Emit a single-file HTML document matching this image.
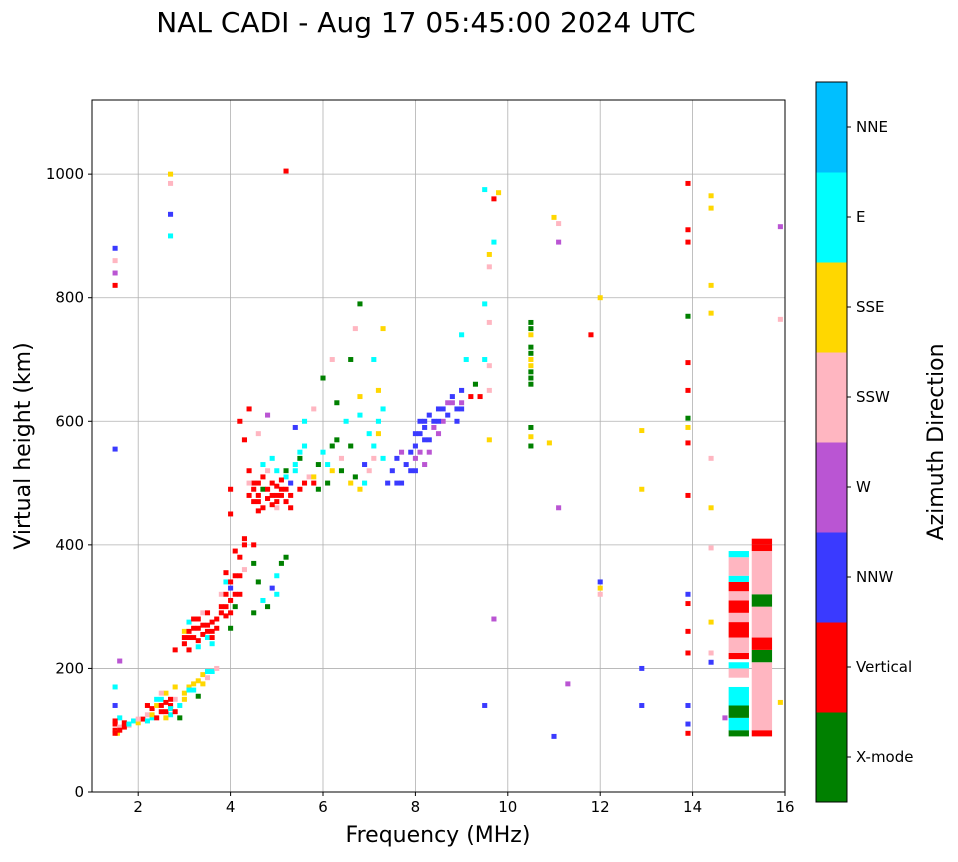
<!DOCTYPE html>
<html><head><meta charset="utf-8"><style>
body{margin:0;background:#fff;font-family:"Liberation Sans","DejaVu Sans",sans-serif;}
svg text{font-family:"DejaVu Sans","Liberation Sans",sans-serif;}
</style></head><body>
<svg id="chart" width="958" height="857" xmlns="http://www.w3.org/2000/svg">
<text x="426" y="32" font-size="28" text-anchor="middle" fill="#000">NAL CADI - Aug 17 05:45:00 2024 UTC</text>
<g id="grid"></g>
<g id="marks"></g>
<rect x="92" y="100" width="693" height="692" fill="none" stroke="#000" stroke-width="1"/>
<g id="axes"></g>
<text x="438" y="842" font-size="22" text-anchor="middle">Frequency (MHz)</text>
<text transform="translate(30,446) rotate(-90)" font-size="22" text-anchor="middle">Virtual height (km)</text>
<g id="cbar"></g>
<text transform="translate(943,442) rotate(-90)" font-size="22" text-anchor="middle">Azimuth Direction</text>
</svg>
<script>
const dirLabels=["X-mode","Vertical","NNW","W","SSW","SSE","E","NNE"];
const dirColors=["#008000","#ff0000","#3a3aff","#ba55d3","#ffb6c1","#ffd700","#00ffff","#00bfff"];
const xTicks=[2,4,6,8,10,12,14,16];
const yTicks=[0,200,400,600,800,1000];
const freqs=[1.5,1.5,1.55,1.6,1.6,1.7,1.8,1.9,2.0,2.1,2.2,2.3,2.3,2.4,2.5,2.5,2.6,2.6,2.7,2.7,2.8,2.9,1.5,1.5,1.6,
3.0,3.1,3.2,3.3,3.4,3.5,3.6,3.7,3.3,
2.8,3.0,3.0,3.1,3.1,3.2,3.3,3.3,3.4,3.4,3.5,3.5,3.6,3.7,3.8,3.8,3.9,3.9,4.0,4.0,4.1,4.1,4.2,4.2,4.3,4.3,4.0,4.0,4.2,4.3,4.0,
4.4,4.5,4.5,4.6,4.7,4.7,4.8,4.8,4.9,4.9,5.0,5.0,5.1,5.2,5.2,5.3,4.5,4.5,4.6,4.7,4.8,4.9,5.0,5.1,5.2,4.5,5.0,4.6,4.8,4.4,
5.4,5.5,5.5,5.6,5.7,5.8,5.9,6.0,6.1,6.2,6.3,6.4,6.5,6.0,6.3,5.4,5.6,5.8,6.2,
6.6,6.7,6.8,6.9,7.0,7.1,7.2,7.3,7.4,7.5,7.6,7.7,7.3,7.2,7.1,6.8,6.6,6.7,6.8,7.3,
7.9,8.0,8.0,8.1,8.2,8.1,8.3,8.4,8.5,8.6,8.7,8.8,8.9,9.0,8.5,8.2,
9.1,9.2,9.3,9.4,9.5,9.5,9.6,9.6,9.6,9.6,9.6,9.7,9.5,9.8,9.7,9.0,9.7,9.5,9.6,
10.5,10.5,10.5,10.5,10.5,10.5,10.5,10.5,10.5,10.9,11.1,11.0,11.1,11.1,11.0,11.3,11.8,12,12,12,12,12.9,12.9,12.9,12.9,
13.9,13.9,13.9,13.9,13.9,13.9,13.9,13.9,13.9,13.9,13.9,13.9,13.9,13.9,13.9,13.9,13.9,
14.4,14.4,14.4,14.4,14.4,14.4,14.4,14.4,14.4,14.4,14.7,15.9,15.9,15.9,2.7,2.7,2.7,2.7,1.5,1.5,1.5,1.5,5.2,1.5];
const heights=[100,110,95,105,120,112,108,115,112,118,125,120,135,140,130,150,145,160,140,125,150,120,170,140,212,
160,170,165,180,190,185,195,200,155,
230,240,260,250,275,265,245,280,255,290,270,250,260,280,290,320,300,340,310,330,300,350,320,380,400,360,450,490,600,570,265,
520,500,470,480,510,490,475,520,500,540,480,460,490,470,510,500,400,370,340,310,300,330,350,370,380,290,320,580,610,620,
520,540,490,560,510,500,530,550,500,520,570,540,600,670,630,590,600,620,700,
500,510,490,530,520,560,580,540,500,520,540,550,620,650,700,640,700,750,790,750,
520,560,540,580,600,550,570,590,620,600,610,630,620,650,580,530,
700,640,660,640,790,700,760,690,650,850,870,960,975,970,890,740,280,140,570,
760,740,720,700,680,660,590,575,560,565,920,930,890,460,90,175,740,800,340,320,330,585,490,200,140,
985,910,890,770,695,650,605,590,565,480,320,305,260,225,140,110,95,
965,945,820,775,540,460,395,275,225,210,120,915,765,145,1000,985,900,935,880,860,820,840,1005,555];
const dirs=[1,1,5,4,6,1,4,6,5,1,4,6,1,5,1,6,1,5,1,6,4,0,6,2,3,
5,5,6,5,5,4,6,4,0,
1,1,5,1,6,1,1,1,1,4,1,6,1,1,1,4,1,6,1,2,0,1,1,1,1,4,1,1,1,1,0,
1,1,1,1,1,0,1,4,1,6,1,4,1,1,6,2,1,0,0,6,0,2,6,0,0,0,6,4,3,1,
6,0,1,6,4,1,0,6,0,5,0,4,6,0,0,2,6,4,4,
5,0,5,2,4,6,5,6,2,2,2,3,6,5,6,5,0,4,0,5,
2,2,3,2,2,3,2,3,2,3,2,3,2,2,3,3,
6,1,0,1,6,6,4,4,4,4,5,1,6,5,6,6,3,2,5,
0,5,0,5,0,0,0,5,0,5,4,5,3,3,2,3,1,5,2,4,5,5,5,2,2,
1,1,1,0,1,1,0,5,1,1,2,1,1,1,2,2,1,
5,5,5,5,4,5,4,5,4,2,3,3,4,5,5,4,6,2,2,4,1,3,1,2];
const freqs2=[1.5,1.6,1.7,1.5,1.8,2.0,2.2,2.3,2.4,2.5,2.6,2.7,2.7,2.6,2.8,2.9,2.8,2.5,2.4,2.2,3.0,3.1,3.2,3.4,3.5,
3.0,3.1,3.2,3.2,3.3,3.4,3.5,3.5,3.6,3.6,3.7,3.8,3.9,4.0,4.0,4.1,3.3,3.6,3.1,3.9,4.1,4.2,3.9,4.3,
4.4,4.5,4.6,4.6,4.7,4.8,4.9,5.0,5.0,5.1,5.2,5.3,4.4,4.6,4.9,5.1,5.3,4.7,5.0,
7.8,7.9,8.0,8.1,8.2,8.2,8.3,8.3,8.4,8.5,8.6,8.7,8.8,8.9,9.0,9.0,8.0,7.7,7.6,
5.6,5.8,5.9,6.1,6.4,6.6,6.9,7.0,7.2,7.1,6.8,5.5,6.2,5.2,5.4,
10.5,10.5,10.5,10.5];
const heights2=[95,100,105,115,110,118,115,125,120,140,130,150,135,120,130,140,170,160,150,140,150,165,175,175,195,
250,260,250,280,265,270,260,290,275,250,265,300,320,290,340,320,235,240,230,285,390,350,355,410,
480,490,500,470,460,490,480,495,470,480,490,480,500,455,465,505,460,530,520,
530,550,580,600,570,590,610,550,600,600,620,630,640,600,620,630,520,500,500,
500,510,490,530,520,560,500,580,600,540,610,550,560,520,530,
750,710,690,670];
const dirs2=[1,1,1,1,6,4,6,5,1,1,1,1,6,5,1,6,5,4,6,1,5,6,5,5,6,
1,1,1,1,1,1,1,1,1,1,1,1,1,1,1,1,6,6,1,1,1,1,1,1,
1,1,1,1,1,1,1,1,1,1,1,1,4,1,1,1,1,6,6,
2,2,2,2,2,2,2,3,2,2,2,3,2,2,2,3,2,2,2,
1,5,0,6,0,0,6,6,6,4,6,6,0,0,6,
0,0,5,0];
const blockFreq=[15.0,15.0,15.0,15.0,15.0,15.0,15.0,15.0,15.0,15.0,15.0,15.0,15.0,15.0,15.0,15.0,
15.5,15.5,15.5,15.5,15.5,15.5,15.5,15.5,15.5];
const blockLow=[90,100,120,140,185,200,215,225,250,275,290,310,325,340,350,380,
90,100,210,230,250,300,320,390,400];
const blockHigh=[100,120,140,170,200,210,225,250,275,290,310,325,340,350,380,390,
100,210,230,250,300,320,390,400,410];
const blockDir=[0,6,0,6,4,6,1,4,1,4,1,4,1,6,4,6,
1,4,0,1,4,0,4,1,1];

const X0=92,X1=785,Y0=792,Y1=100,FMIN=1,FMAX=16,HMIN=0,HMAX=1120;
const xs=f=>X0+(f-FMIN)/(FMAX-FMIN)*(X1-X0);
const ys=h=>Y0-(h-HMIN)/(HMAX-HMIN)*(Y0-Y1);
const NS="http://www.w3.org/2000/svg";
function mk(tag,attrs,parent){const e=document.createElementNS(NS,tag);for(const k in attrs)e.setAttribute(k,attrs[k]);parent.appendChild(e);return e;}
const grid=document.getElementById('grid'),axes=document.getElementById('axes'),marks=document.getElementById('marks'),cbar=document.getElementById('cbar');
xTicks.forEach(t=>{const x=xs(t);
 if(t<FMAX){const g=mk('line',{x1:x,x2:x,y1:Y1,y2:Y0,stroke:'#b0b0b0','stroke-width':0.8},grid);
 
 }
 mk('line',{x1:x,x2:x,y1:Y0,y2:Y0+4,stroke:'#000'},axes);
 const tx=mk('text',{x:x,y:Y0+20,'font-size':15,'text-anchor':'middle'},axes);tx.textContent=t;
 
 });
yTicks.forEach(t=>{const y=ys(t);
 if(t>0){const g=mk('line',{x1:X0,x2:X1,y1:y,y2:y,stroke:'#b0b0b0','stroke-width':0.8},grid);
 
 }
 mk('line',{x1:X0-4,x2:X0,y1:y,y2:y,stroke:'#000'},axes);
 const tx=mk('text',{x:X0-8,y:y+5,'font-size':15,'text-anchor':'end'},axes);tx.textContent=t;
 
 });
const cw=0.11,ch=8;
function drawCells(fs,hs,ds){fs.forEach((f,i)=>{const r=mk('rect',{x:xs(f-cw/2),y:ys(hs[i]+ch/2),width:xs(f+cw/2)-xs(f-cw/2),height:ys(hs[i]-ch/2)-ys(hs[i]+ch/2),fill:dirColors[ds[i]]},marks);
 
 });}
drawCells(freqs,heights,dirs);
drawCells(freqs2,heights2,dirs2);
blockFreq.forEach((f,i)=>{const r=mk('rect',{x:xs(f-0.22),y:ys(blockHigh[i]),width:xs(f+0.22)-xs(f-0.22),height:ys(blockLow[i])-ys(blockHigh[i]),fill:dirColors[blockDir[i]]},marks);
 
 });
const CX=816,CW=31,CT=82,CB=802,seg=(CB-CT)/dirLabels.length;
dirLabels.forEach((l,i)=>{const y=CB-(i+1)*seg;
 const r=mk('rect',{x:CX,y:y,width:CW,height:seg+0.5,fill:dirColors[i]},cbar);
 
 
 mk('line',{x1:CX+CW,x2:CX+CW+4,y1:y+seg/2,y2:y+seg/2,stroke:'#000'},cbar);
 const t=mk('text',{x:CX+CW+9,y:y+seg/2+5,'font-size':15},cbar);t.textContent=l;
 
 });
mk('rect',{x:CX,y:CT,width:CW,height:CB-CT,fill:'none',stroke:'#000','stroke-width':1},cbar);
</script>
</body></html>
